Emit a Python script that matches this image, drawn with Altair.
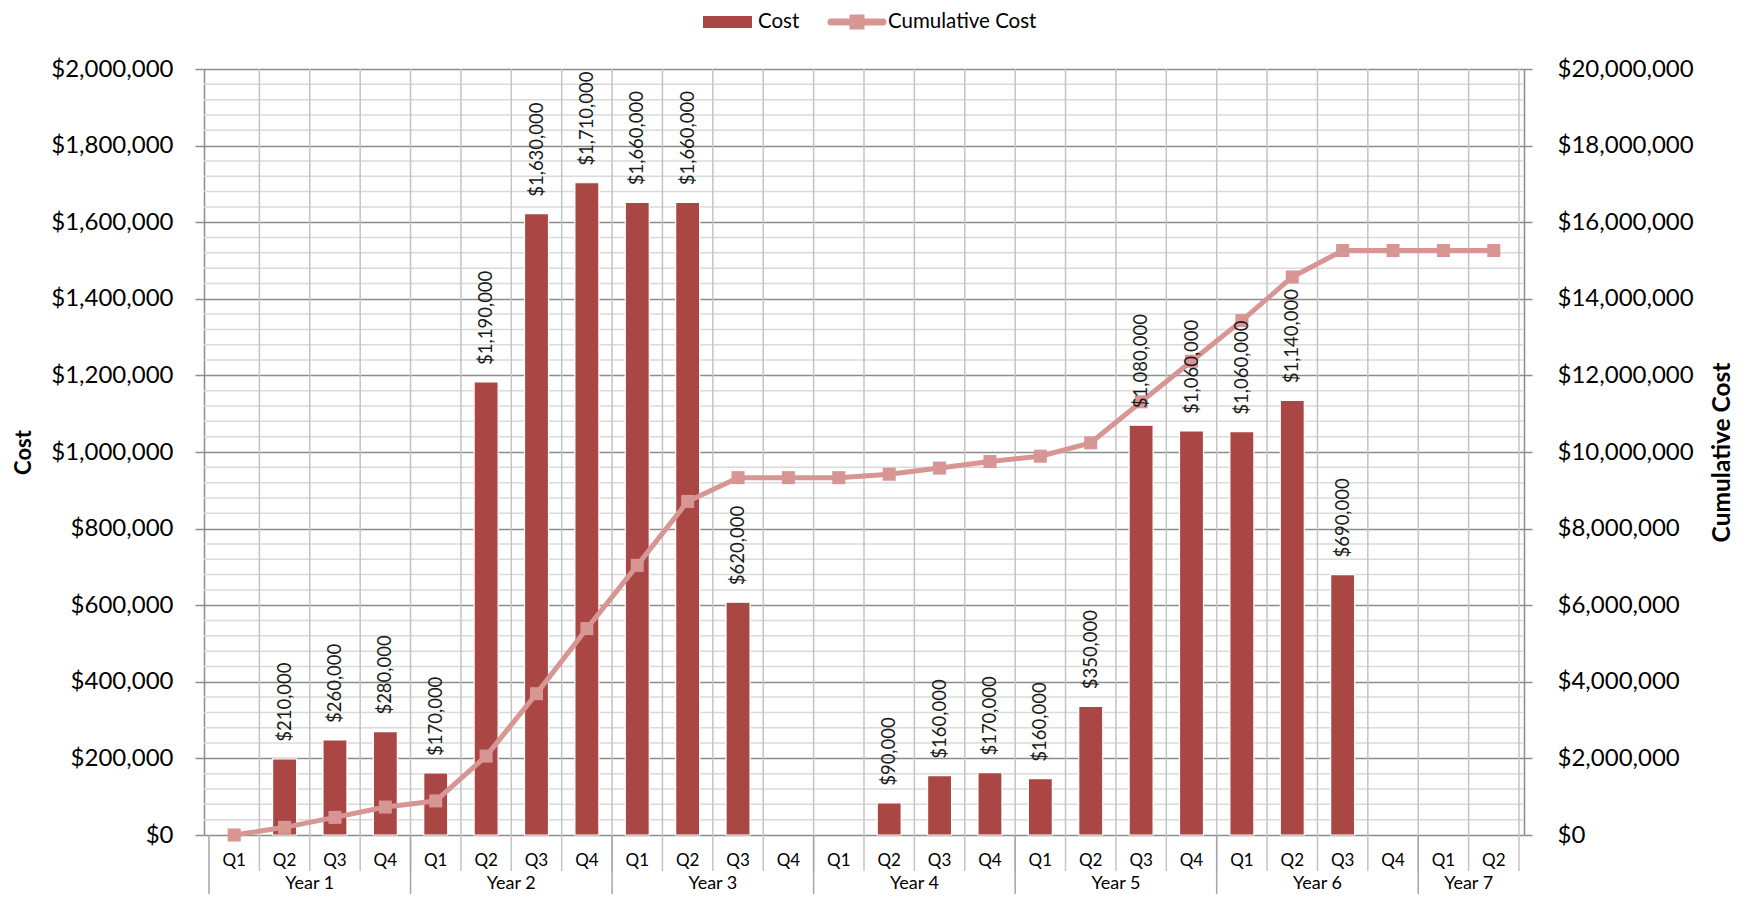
import altair as alt
import pandas as pd

# ---- data ----
years = ["Year 1"] * 4 + ["Year 2"] * 4 + ["Year 3"] * 4 + ["Year 4"] * 4 + \
        ["Year 5"] * 4 + ["Year 6"] * 4 + ["Year 7"] * 2
quarters = ["Q1", "Q2", "Q3", "Q4"] * 6 + ["Q1", "Q2"]
cost = [0, 199000, 248000, 270000,
        162000, 1183000, 1622000, 1703000,
        1652000, 1652000, 608000, 0,
        0, 84000, 155000, 163000,
        147000, 336000, 1070000, 1055000,
        1053000, 1135000, 680000, 0,
        0, 0]
cost_labels = ["", "$210,000", "$260,000", "$280,000",
               "$170,000", "$1,190,000", "$1,630,000", "$1,710,000",
               "$1,660,000", "$1,660,000", "$620,000", "",
               "", "$90,000", "$160,000", "$170,000",
               "$160,000", "$350,000", "$1,080,000", "$1,060,000",
               "$1,060,000", "$1,140,000", "$690,000", "",
               "", ""]
cumulative = [0, 200000, 460000, 730000,
              890000, 2060000, 3690000, 5390000,
              7040000, 8710000, 9330000, 9330000,
              9330000, 9420000, 9580000, 9750000,
              9890000, 10240000, 11310000, 12370000,
              13430000, 14570000, 15260000, 15260000,
              15260000, 15260000]
left_ticks = list(range(0, 2000001, 200000))
right_ticks = list(range(0, 20000001, 2000000))
legend_names = ["Cost", "Cumulative Cost"]

df = pd.DataFrame({
    "idx": list(range(len(quarters))),
    "year": years,
    "quarter": quarters,
    "cost": cost,
    "label": cost_labels,
    "cum": cumulative,
})
leg_df = pd.DataFrame({"name": legend_names})

W, H = 1320, 766
FONT = "Lato"
BAR = "#AA4643"
LINE = "#D79593"
GRID = "#8c8c8c"

xs = alt.Scale(domain=[-0.5, 25.5], nice=False, zero=False)
yl = alt.Scale(domain=[0, 2000000], nice=False, zero=True)
yr = alt.Scale(domain=[0, 20000000], nice=False, zero=True)

base = alt.Chart(df)

minor = alt.Chart(alt.sequence(0, 2000001, 40000, as_="v")).transform_filter(
    "datum.v % 200000 != 0"
).mark_rule(color="#dadada", strokeWidth=1.5).encode(
    y=alt.Y("v:Q", scale=yl, axis=None), x=alt.value(0), x2=alt.value(W)
)

vgrid = base.transform_calculate(b="datum.idx + 0.5").mark_rule(
    color="#c4c4c4", strokeWidth=1.5
).encode(x=alt.X("b:Q", scale=xs, axis=None), y=alt.value(0), y2=alt.value(H + 36))

ydiv = base.transform_aggregate(start="min(idx)", groupby=["year"]).transform_calculate(
    b="datum.start - 0.5"
).mark_rule(color="#a6a6a6", strokeWidth=1.5).encode(
    x=alt.X("b:Q", scale=xs, axis=None), y=alt.value(H), y2=alt.value(H + 64)
)

qlab = base.mark_text(font=FONT, fontSize=17, color="#000000").encode(
    x=alt.X("idx:Q", scale=xs, axis=None), y=alt.value(H + 26), text="quarter:N"
)

ylab = base.transform_aggregate(mid="mean(idx)", groupby=["year"]).mark_text(
    font=FONT, fontSize=18, color="#000000", baseline="bottom"
).encode(x=alt.X("mid:Q", scale=xs, axis=None), y=alt.value(H + 58), text="year:N")

bars = base.transform_filter("datum.cost > 0").mark_bar(
    size=24, color=BAR, stroke="white", strokeWidth=1.2
).encode(
    x=alt.X("idx:Q", scale=xs, axis=None),
    y=alt.Y("cost:Q", scale=yl, axis=alt.Axis(
        orient="left", values=left_ticks, format="$,.0f",
        labelFont=FONT, labelFontSize=24, labelColor="#000000", labelPadding=22,
        labelFlush=False, labelOverlap=False, tickSize=9, tickColor=GRID, tickWidth=1.5,
        domainColor=GRID, domainWidth=1.5,
        grid=True, gridColor=GRID, gridWidth=1.5,
        title="Cost", titleFont=FONT, titleFontSize=22, titleFontWeight="bold",
        titleColor="#000000", titleX=-181, titleY=H / 2, titleAngle=270,
        titleAlign="center", titleBaseline="middle")),
)

labels = base.transform_filter("datum.label != ''").mark_text(
    angle=270, align="left", baseline="middle", dx=17,
    font=FONT, fontSize=18.5, color="#1a1a1a"
).encode(
    x=alt.X("idx:Q", scale=xs, axis=None),
    y=alt.Y("cost:Q", scale=yl, axis=None),
    text="label:N",
)

line = base.mark_line(color=LINE, strokeWidth=5, strokeCap="round", strokeJoin="round").encode(
    x=alt.X("idx:Q", scale=xs, axis=None),
    y=alt.Y("cum:Q", scale=yr, axis=alt.Axis(
        orient="right", values=right_ticks, format="$,.0f",
        labelFont=FONT, labelFontSize=24, labelColor="#000000", labelPadding=25,
        labelFlush=False, labelOverlap=False, tickSize=8, tickColor=GRID, tickWidth=1.5,
        domainColor=GRID, domainWidth=1.5, grid=False,
        title="Cumulative Cost", titleFont=FONT, titleFontSize=24.5, titleFontWeight="bold",
        titleColor="#000000", titleX=198, titleY=H / 2, titleAngle=270,
        titleAlign="center", titleBaseline="middle")),
)

points = base.mark_square(size=170, color=LINE, opacity=1, filled=True).encode(
    x=alt.X("idx:Q", scale=xs, axis=None),
    y=alt.Y("cum:Q", scale=yr, axis=None),
)

# legend
LY = -47
leg_rect = alt.Chart(leg_df).transform_filter("datum.name == 'Cost'").mark_rect(color=BAR).encode(
    x=alt.value(499), x2=alt.value(548), y=alt.value(LY - 6), y2=alt.value(LY + 6)
)
leg_t1 = alt.Chart(leg_df).transform_filter("datum.name == 'Cost'").mark_text(
    align="left", baseline="middle", font=FONT, fontSize=20.5, color="#000000"
).encode(x=alt.value(554), y=alt.value(LY), text="name:N")
leg_line = alt.Chart(leg_df).transform_filter("datum.name == 'Cumulative Cost'").mark_rule(
    color=LINE, strokeWidth=7, strokeCap="round"
).encode(x=alt.value(627), x2=alt.value(679), y=alt.value(LY))
leg_sq = alt.Chart(leg_df).transform_filter("datum.name == 'Cumulative Cost'").mark_square(
    color=LINE, size=225, opacity=1, filled=True
).encode(x=alt.value(653), y=alt.value(LY))
leg_t2 = alt.Chart(leg_df).transform_filter("datum.name == 'Cumulative Cost'").mark_text(
    align="left", baseline="middle", font=FONT, fontSize=20.5, color="#000000"
).encode(x=alt.value(684), y=alt.value(LY), text="name:N")

chart = alt.layer(
    minor, vgrid, ydiv, qlab, ylab, bars, line, points, labels,
    leg_rect, leg_t1, leg_line, leg_sq, leg_t2,
).resolve_scale(y="independent").properties(
    width=W, height=H,
    padding={"left": 196, "top": 61, "right": 212, "bottom": 59},
    autosize=alt.AutoSizeParams(type="none"),
).configure_view(stroke=None).configure(background="white")

chart.save("out.html", embed_options={"renderer": "svg", "actions": False})
